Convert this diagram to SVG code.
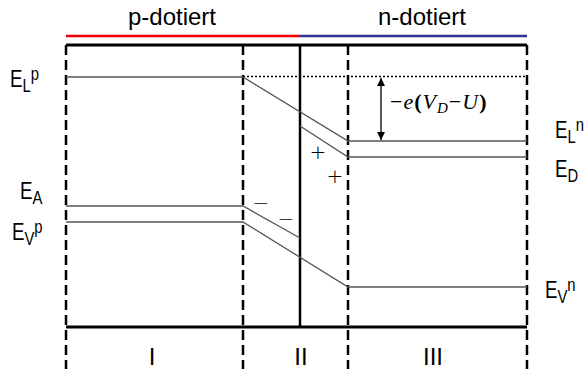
<svg xmlns="http://www.w3.org/2000/svg" width="588" height="369" viewBox="0 0 588 369">
<style>
.frame{stroke:#000;stroke-width:3;fill:none}
.dash{stroke:#000;stroke-width:2.5;fill:none;stroke-dasharray:10,5}
.band{stroke:#555;stroke-width:1.3;fill:none}
.lbl{font-family:"Liberation Sans",Arial,sans-serif;font-size:24px;fill:#000}
.sub{font-size:19px}
.title{font-family:"Liberation Sans",Arial,sans-serif;font-size:24px;fill:#000;text-anchor:middle}
.rom{font-family:"Liberation Sans",Arial,sans-serif;font-size:24px;fill:#000;text-anchor:middle}
.math{font-family:"Liberation Serif","Times New Roman",serif;font-size:22px;fill:#000;letter-spacing:1px}
.sign{font-family:"DejaVu Sans",sans-serif;font-size:20px;font-weight:200;fill:#000;text-anchor:middle}
</style>
<defs>
<marker id="ah" viewBox="0 0 10 10" refX="10" refY="5" markerWidth="8" markerHeight="8" markerUnits="userSpaceOnUse" orient="auto-start-reverse">
<path d="M0,0 L10,5 L0,10 z" fill="#000"/>
</marker>
</defs>
<rect width="588" height="369" fill="#fff"/>
<g id="titles">
<text class="title" x="172" y="25">p-dotiert</text>
<text class="title" x="422" y="25">n-dotiert</text>
<line x1="66" y1="36" x2="300" y2="36" stroke="#e00" stroke-width="2.5"/>
<line x1="300" y1="36" x2="527" y2="36" stroke="#33338f" stroke-width="2.5"/>
</g>
<g id="frame">
<line class="frame" x1="66" y1="45" x2="527" y2="45"/>
<line class="frame" x1="66" y1="327" x2="527" y2="327"/>
<line x1="300" y1="45" x2="300" y2="327" stroke="#000" stroke-width="2.5"/>
<line class="dash" x1="66" y1="45" x2="66" y2="369"/>
<line class="dash" x1="243" y1="45" x2="243" y2="369"/>
<line class="dash" x1="348" y1="45" x2="348" y2="369"/>
<line class="dash" x1="527" y1="45" x2="527" y2="369"/>
</g>
<g id="bands">
<line x1="243" y1="76.5" x2="527" y2="76.5" stroke="#000" stroke-width="1.5" stroke-dasharray="2,2"/>
<path class="band" d="M66,77 H243 L348,141 H527"/>
<path class="band" d="M300,126 L348,157 H527"/>
<path class="band" d="M66,206 H243 L300,238"/>
<path class="band" d="M66,222 H243 L348,287 H527"/>
</g>
<g id="arrow">
<line x1="381" y1="78" x2="381" y2="140" stroke="#000" stroke-width="1.3" marker-start="url(#ah)" marker-end="url(#ah)"/>
<text class="math" x="390" y="109">−<tspan font-style="italic">e</tspan><tspan font-weight="bold">(</tspan><tspan font-style="italic">V</tspan><tspan font-style="italic" font-size="15" dy="4">D</tspan><tspan dy="-4">−</tspan><tspan font-style="italic">U</tspan><tspan font-weight="bold">)</tspan></text>
</g>
<g id="charges">
<text class="sign" x="261" y="210">−</text>
<text class="sign" x="286" y="226">−</text>
<text class="sign" x="318" y="159">+</text>
<text class="sign" x="335" y="183">+</text>
</g>
<g id="labels">
<text class="lbl" transform="translate(10,87) scale(0.78,1)">E<tspan class="sub" dy="5">L</tspan><tspan class="sub" dy="-12">p</tspan></text>
<text class="lbl" transform="translate(20,199) scale(0.78,1)">E<tspan class="sub" dy="5">A</tspan></text>
<text class="lbl" transform="translate(12,240) scale(0.78,1)">E<tspan class="sub" dy="5">V</tspan><tspan class="sub" dy="-12">p</tspan></text>
<text class="lbl" transform="translate(555,138) scale(0.78,1)">E<tspan class="sub" dy="5">L</tspan><tspan class="sub" dy="-12">n</tspan></text>
<text class="lbl" transform="translate(555,177) scale(0.78,1)">E<tspan class="sub" dy="5">D</tspan></text>
<text class="lbl" transform="translate(545,298) scale(0.78,1)">E<tspan class="sub" dy="5">V</tspan><tspan class="sub" dy="-12">n</tspan></text>
</g>
<g id="regions">
<text class="rom" x="152" y="365">I</text>
<text class="rom" x="301" y="365">II</text>
<text class="rom" x="433" y="365">III</text>
</g>
</svg>
